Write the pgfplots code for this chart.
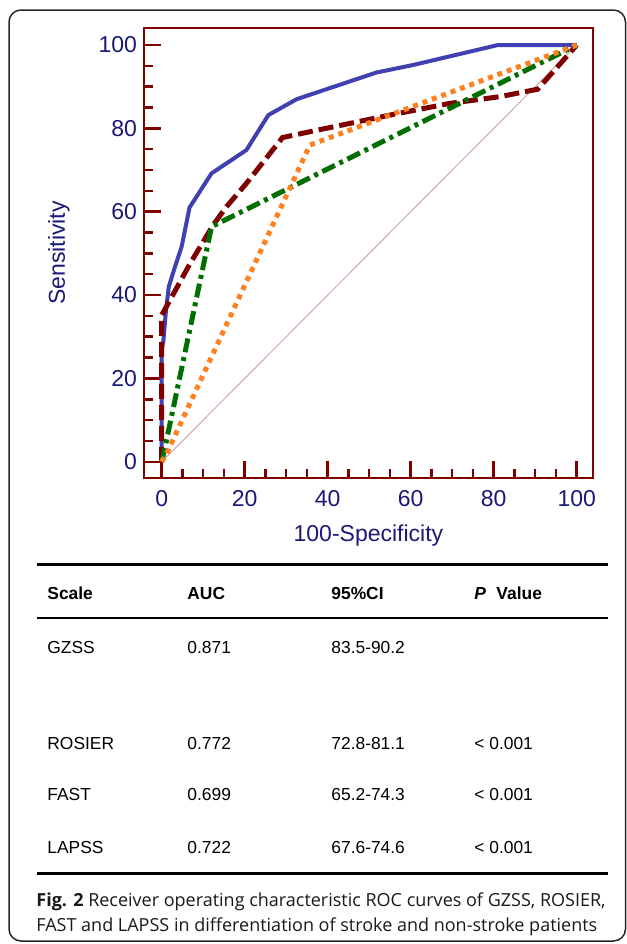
\documentclass[border=0pt]{standalone}
\usepackage{pgfplots}
\pgfplotsset{compat=1.18}
\usepackage{fontspec}
\setmainfont{Liberation Sans}
\newfontfamily\capfont{Open Sans}
\definecolor{frame}{RGB}{128,0,0}
\definecolor{navy}{RGB}{25,25,120}
\definecolor{gzss}{RGB}{64,64,176}
\definecolor{rosier}{RGB}{128,0,0}
\definecolor{fast}{RGB}{255,128,32}
\definecolor{lapss}{RGB}{0,110,0}
\definecolor{diag}{RGB}{205,170,170}
\newcommand\tabfont{\fontsize{8.7}{10}\selectfont}
\begin{document}
\begin{tikzpicture}
\useasboundingbox (0,0) rectangle (313.5pt,-472pt);
\begin{axis}[
  at={(72pt,-239pt)}, anchor=south west,
  x=2.075pt, y=2.0835pt,
  xmin=-4.27, xmax=103.9, ymin=-3.9, ymax=104.1,
  axis line style={frame, line width=1.3pt},
  xtick={0,20,...,100}, ytick={0,20,...,100},
  minor tick num=3,
  tick align=inside,
  xtick pos=bottom, ytick pos=left,
  major tick length=8.5pt, minor tick length=4.5pt,
  tick style={frame, line width=1.25pt},
  ticklabel style={font=\fontsize{11.5}{13}\selectfont, color=navy},
  /pgf/number format/assume math mode=true,
  xticklabel style={yshift=-2.5pt},
  xlabel={100-Specificity}, ylabel={Sensitivity},
  label style={font=\fontsize{11.5}{13}\selectfont, color=navy},
  xlabel style={at={(rel axis cs:0.5,-0.142)}, anchor=base},
  ylabel style={at={(rel axis cs:-0.176,0.5)}, anchor=base},
]
\addplot[diag, line width=0.5pt] coordinates {(0,0)(100,100)};
\addplot[gzss, line width=2pt, line join=round] coordinates {
(0,0)(0,27)(0.4,29)(1,36)(1.7,42)(3.2,46.8)(4.8,51.6)(6.7,61)(12,69.2)(20.4,74.8)(25.7,83.2)(32.5,87)(51.7,93.4)(60.5,95.2)(81,100)(100,100)};
\addplot[rosier, line width=2.5pt, dash pattern=on 7.5pt off 3pt] coordinates {
(0,0)(0,35.2)(1,37)(6.8,47.5)(12.4,56.8)(15.6,61.2)(20.4,66.8)(29.1,77.8)(35.7,79.2)(55,83.2)(69.4,86)(81.4,87.6)(90.6,89.4)(100,100)};
\addplot[lapss, line width=2.5pt, dash pattern=on 7pt off 2.5pt on 2pt off 2.5pt] coordinates {
(0,0)(0.8,3.5)(12,56.4)(100,100)};
\addplot[fast, line width=2.5pt, dash pattern=on 2.5pt off 2.5pt] coordinates {
(0,0)(1.2,2)(35.7,76)(100,100)};
\end{axis}
\begin{scope}[x=0.5pt,y=-0.5pt]
\draw[line width=0.75pt, rounded corners=6pt, black!85] (9,10) rectangle (625.5,941);
\draw[line width=1.5pt] (37,564) -- (608,564);
\draw[line width=1pt] (37,618) -- (608,618);
\draw[line width=1.5pt] (37,873) -- (608,873);
\begin{scope}[every node/.style={anchor=base west, inner sep=0pt, font=\tabfont}]
\node[font=\tabfont\bfseries] at (47,599) {Scale};
\node[font=\tabfont\bfseries] at (187,599) {AUC};
\node[font=\tabfont\bfseries] at (331,599) {95\%CI};
\node[font=\tabfont\bfseries] at (474,599) {\textit{P}\hspace{0.6em}Value};
\node at (47,653) {GZSS};
\node at (187,653) {0.871};
\node at (331,653) {83.5-90.2};
\node at (47,749) {ROSIER};
\node at (187,749) {0.772};
\node at (331,749) {72.8-81.1};
\node at (474,749) {< 0.001};
\node at (47,800) {FAST};
\node at (187,800) {0.699};
\node at (331,800) {65.2-74.3};
\node at (474,800) {< 0.001};
\node at (47,853) {LAPSS};
\node at (187,853) {0.722};
\node at (331,853) {67.6-74.6};
\node at (474,853) {< 0.001};
\node[font=\capfont\fontsize{9}{10}\selectfont, text=black!90] at (36,906) {\textbf{Fig. 2} Receiver operating characteristic ROC curves of GZSS, ROSIER,};
\node[font=\capfont\fontsize{9}{10}\selectfont, text=black!90] at (36,931) {FAST and LAPSS in differentiation of stroke and non-stroke patients};
\end{scope}
\end{scope}
\end{tikzpicture}
\end{document}
